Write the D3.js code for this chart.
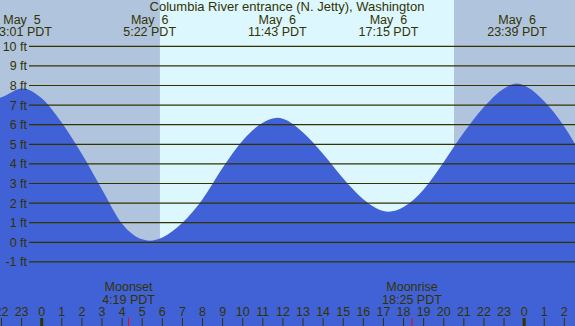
<!DOCTYPE html>
<html>
<head>
  <script src="https://cdnjs.cloudflare.com/ajax/libs/d3/7.8.5/d3.min.js"></script>
  <style>
    body { margin: 0; }
    text {
      font-family: "Liberation Sans", Arial, sans-serif;
      font-size: 12.5px;
      fill: #333300;
    }
  </style>
</head>
<body>
  <div id="graph"></div>
  <script>
    // Tide heights (ft), hours relative to midnight May 6
    const hours = [-2.1, -2, -0.98, 0, 1, 2, 3, 4, 5, 5.37, 6, 7, 8, 9, 10, 11, 11.72, 12, 13,
                   14, 15, 16, 17, 17.25, 18, 19, 20, 21, 22, 23, 23.65, 24, 25, 26, 26.6];
    const heights = [7.37, 7.4, 7.85, 7.35, 6.1, 4.5, 2.7, 0.95, 0.15, 0.08, 0.25, 1.0, 2.2, 3.8, 5.2, 6.1, 6.35, 6.3, 5.6,
                     4.5, 3.25, 2.2, 1.6, 1.56, 1.8, 2.7, 4.1, 5.6, 6.9, 7.85, 8.1, 8.0, 7.2, 5.9, 4.9];

    // High / low tide labels
    const extremeHours = [-0.98, 5.37, 11.72, 17.25, 23.65];
    const extremeDates = ["May \u00a05", "May \u00a06", "May \u00a06", "May \u00a06", "May \u00a06"];
    const extremeTimes = ["23:01 PDT", "5:22 PDT", "11:43 PDT", "17:15 PDT", "23:39 PDT"];

    // Moon events
    const moonHours = [4.32, 18.42];
    const moonNames = ["Moonset", "Moonrise"];
    const moonTimes = ["4:19 PDT", "18:25 PDT"];

    // Daylight
    const sunrise = 5.88;
    const sunset = 20.51;

    const feet = d3.range(-1, 11);
    const hourTicks = d3.range(-2, 27);

    const W = 575, H = 326;
    const title = "Columbia River entrance (N. Jetty), Washington";

    const svg = d3.select("#graph")
      .append("svg")
        .attr("width", W)
        .attr("height", H);

    const x = d3.scaleLinear()
      .domain([-2.075, 26.53])
      .range([0, W]);

    const y = d3.scaleLinear()
      .domain([-1, 10])
      .range([261.9, 46.3]);

    // Night / day background
    svg.append("rect")
      .attr("x", 0).attr("y", 0)
      .attr("width", W).attr("height", H)
      .style("fill", "#b0c4de");

    svg.append("rect")
      .attr("x", x(sunrise)).attr("y", 0)
      .attr("width", x(sunset) - x(sunrise)).attr("height", H)
      .style("fill", "#ddf7ff");

    // Tide area
    const data = hours.map((h, i) => ({h: h, ft: heights[i]}));
    const area = d3.area()
      .x(d => x(d.h))
      .y0(H)
      .y1(d => y(d.ft))
      .curve(d3.curveMonotoneX);

    svg.append("path")
      .datum(data)
      .style("fill", "#4162d6")
      .attr("d", area);

    // Foot lines and labels
    svg.selectAll(".grid")
      .data(feet)
      .enter().append("line")
        .attr("x1", 29)
        .attr("x2", W)
        .attr("y1", d => y(d))
        .attr("y2", d => y(d))
        .style("stroke", "#333300")
        .style("stroke-width", 1.2);

    svg.selectAll(".ylab")
      .data(feet)
      .enter().append("text")
        .attr("x", 27)
        .attr("y", d => y(d) + 4.5)
        .style("text-anchor", "end")
        .text(d => d + " ft");

    // Title
    svg.append("text")
      .attr("x", 287)
      .attr("y", 11)
      .style("text-anchor", "middle")
      .style("font-size", "13px")
      .text(title);

    // High / low labels
    extremeHours.forEach((h, i) => {
      svg.append("text")
        .attr("x", x(h)).attr("y", 24)
        .style("text-anchor", "middle")
        .text(extremeDates[i]);
      svg.append("text")
        .attr("x", x(h)).attr("y", 36)
        .style("text-anchor", "middle")
        .text(extremeTimes[i]);
    });

    // Moon labels
    moonHours.forEach((h, i) => {
      svg.append("text")
        .attr("x", x(h)).attr("y", 291)
        .style("text-anchor", "middle")
        .text(moonNames[i]);
      svg.append("text")
        .attr("x", x(h)).attr("y", 303.5)
        .style("text-anchor", "middle")
        .text(moonTimes[i]);
      svg.append("line")
        .attr("x1", x(h)).attr("x2", x(h))
        .attr("y1", 318).attr("y2", H)
        .style("stroke", "#ff0000")
        .style("stroke-width", 1);
    });

    // Hour ticks
    svg.selectAll(".tick")
      .data(hourTicks)
      .enter().append("line")
        .attr("x1", d => x(d)).attr("x2", d => x(d))
        .attr("y1", 318).attr("y2", H)
        .style("stroke", "#333300")
        .style("stroke-width", d => (d % 24 === 0) ? 3 : 1);

    svg.selectAll(".hlab")
      .data(hourTicks)
      .enter().append("text")
        .attr("x", d => x(d))
        .attr("y", 315.7)
        .style("text-anchor", "middle")
        .text(d => ((d % 24) + 24) % 24);
  </script>
</body>
</html>
